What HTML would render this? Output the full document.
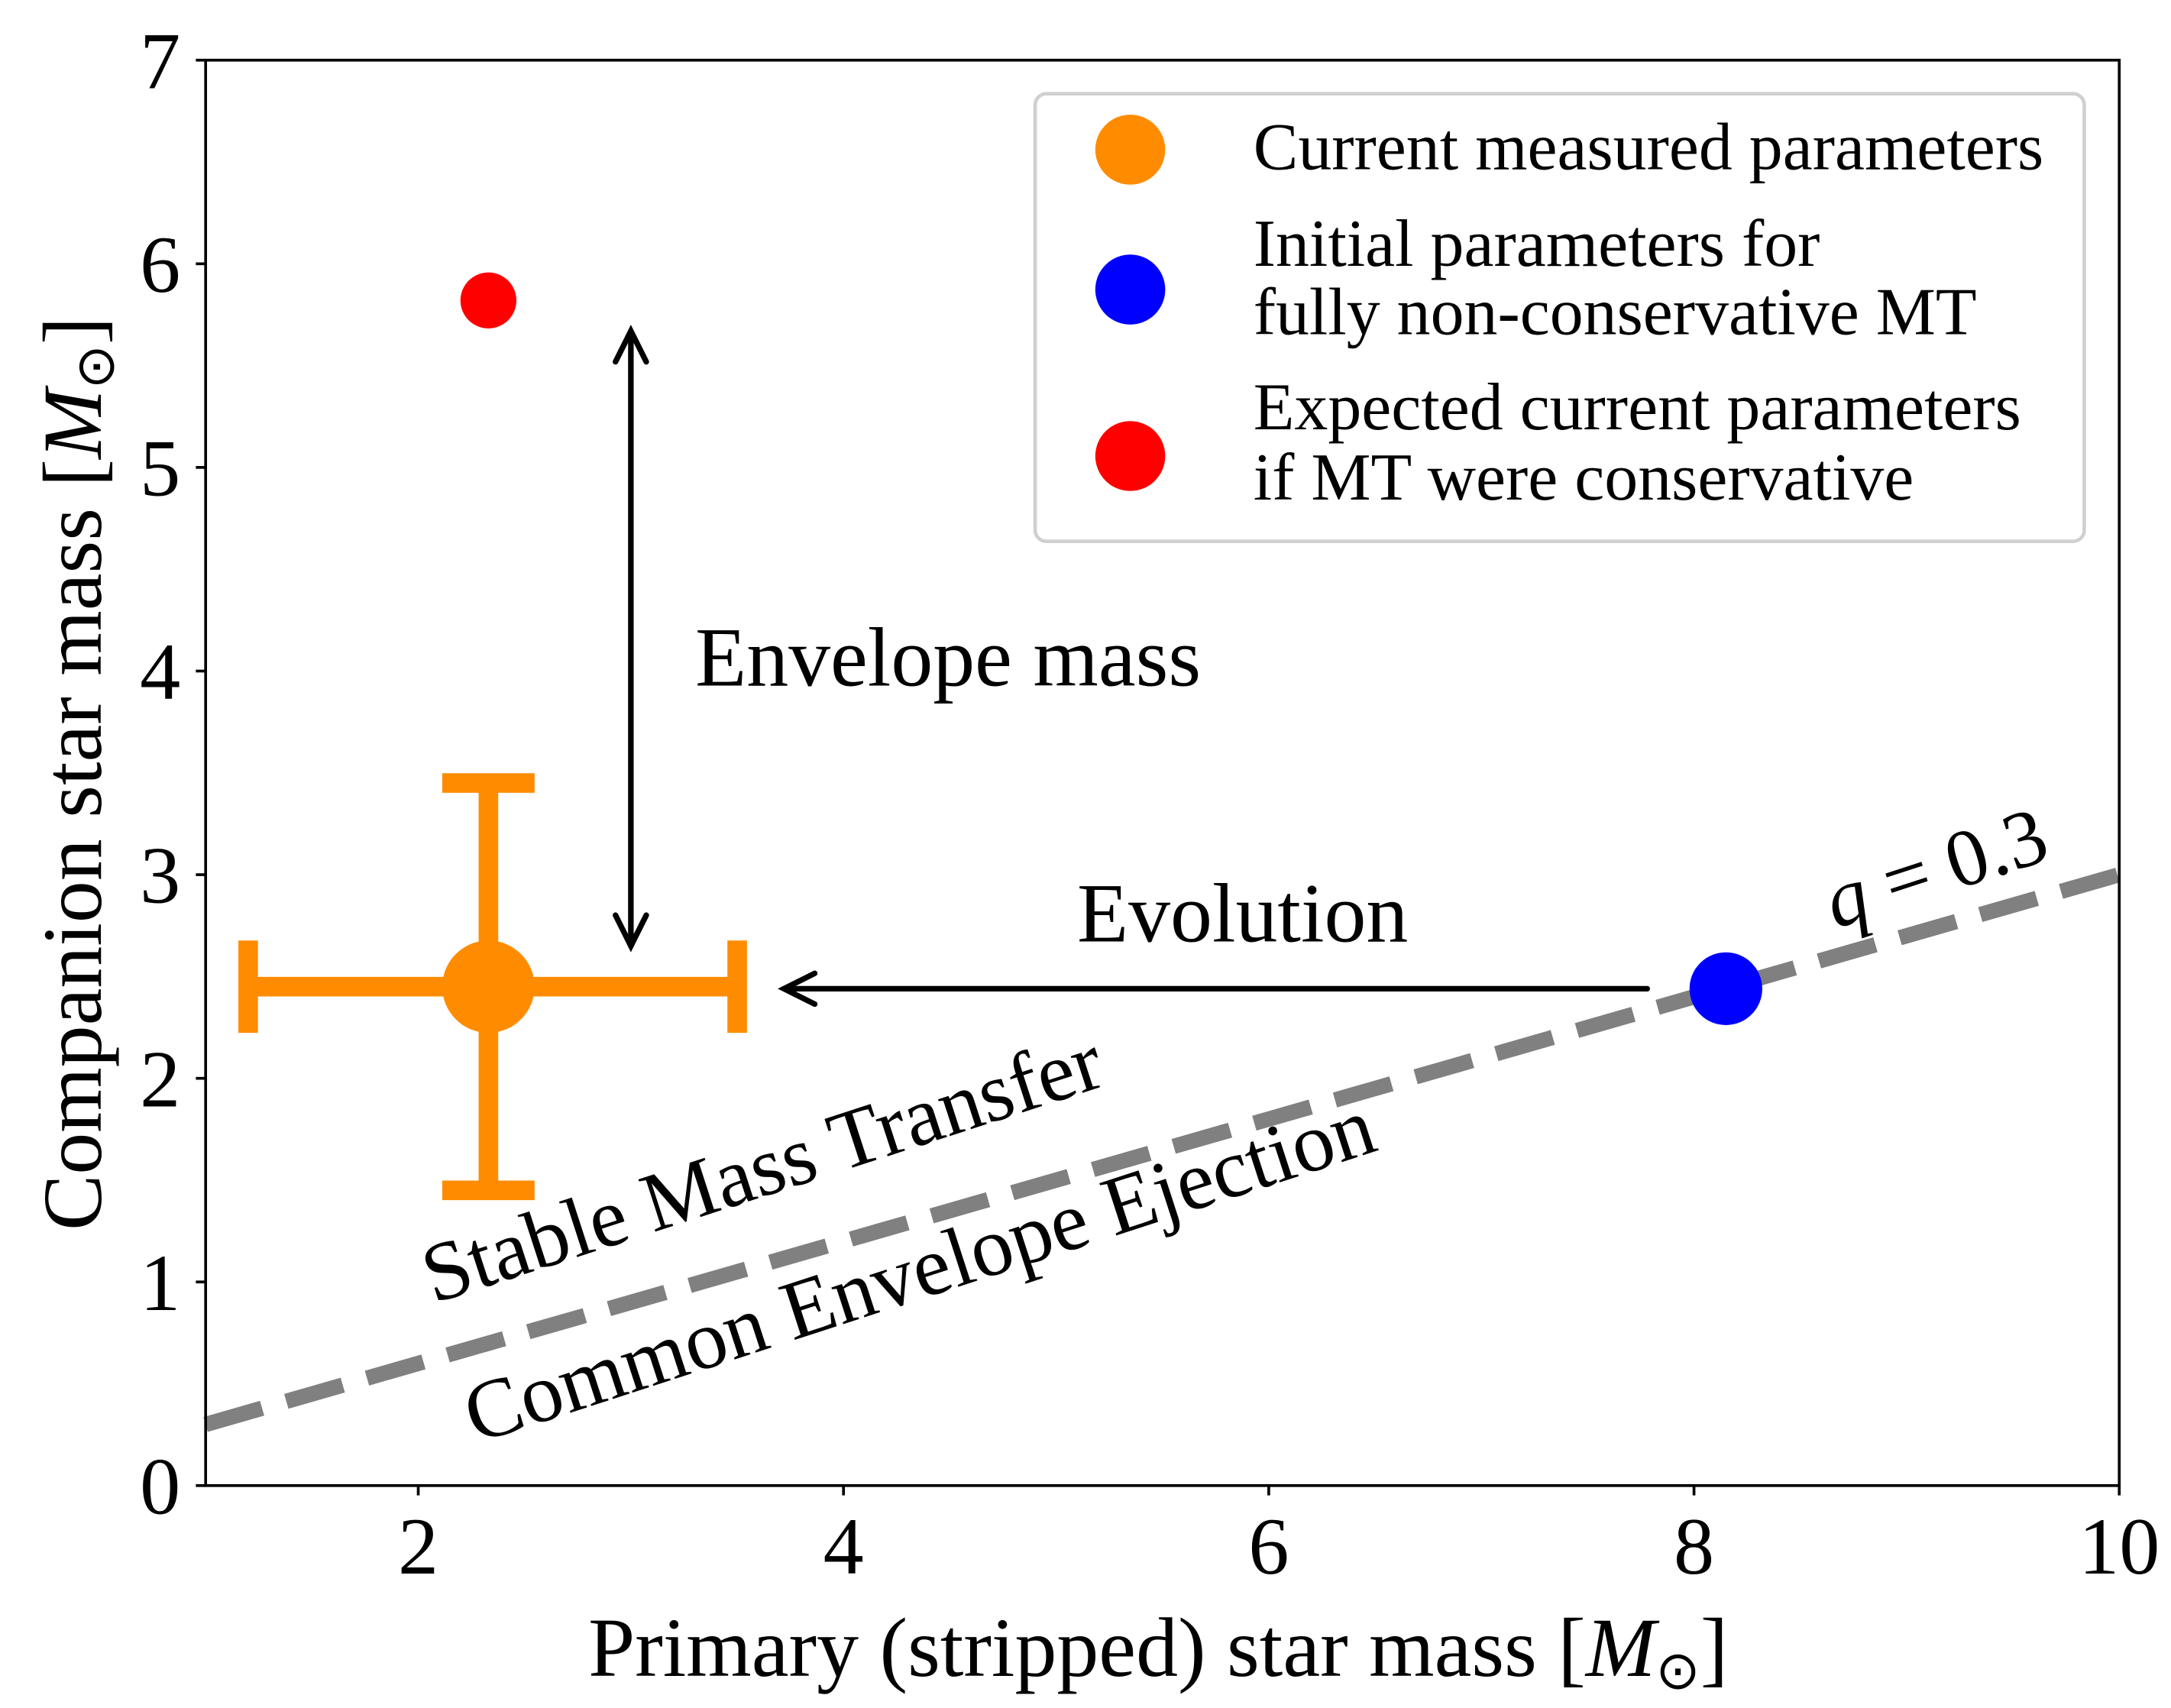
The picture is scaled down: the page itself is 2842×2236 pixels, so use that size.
<!DOCTYPE html>
<html><head><meta charset="utf-8"><style>
html,body{margin:0;padding:0;background:#fff}
svg{display:block}
text{font-family:"Liberation Serif",serif;fill:#000}
</style></head><body>
<svg id="chart" width="2842" height="2236" viewBox="0 0 1552 1221" preserveAspectRatio="none" xmlns="http://www.w3.org/2000/svg">
<g id="plot"></g>
</svg>
<script>
const xTicks=[2,4,6,8,10];
const yTicks=[0,1,2,3,4,5,6,7];
const measured=[2.33,2.45];
const measuredXErr=[1.2,3.5];
const measuredYErr=[1.45,3.45];
const conservative=[2.33,5.82];
const initial=[8.15,2.44];
const qRatio=[0.3];
const lineX=[1,10];
const envArrowY=[2.65,5.67];
const envArrowX=[3.0];
const evoArrowX=[7.78,3.72];
const evoArrowY=[2.44];

const L=147,R=1515,T=43,B=1062;
const X=v=>L+(v-1)/9*(R-L);
const Y=v=>B-v/7*(B-T);
const NS='http://www.w3.org/2000/svg';
const g=document.getElementById('plot');
function mk(tag,attrs,parent){const e=document.createElementNS(NS,tag);for(const k in attrs)e.setAttribute(k,attrs[k]);(parent||g).appendChild(e);return e;}
function txt(s,attrs){const e=mk('text',attrs);e.textContent=s;return e;}

let ql=mk('line',{x1:X(lineX[0]),y1:Y(qRatio[0]*lineX[0]),x2:X(lineX[1]),y2:Y(qRatio[0]*lineX[1]),stroke:'#808080','stroke-width':11,'stroke-dasharray':'42 18'});



const oc='#ff8c00';
let eb=mk('g',{});


mk('line',{x1:X(measuredXErr[0]),y1:Y(measured[1]),x2:X(measuredXErr[1]),y2:Y(measured[1]),stroke:oc,'stroke-width':14},eb);
mk('line',{x1:X(measured[0]),y1:Y(measuredYErr[0]),x2:X(measured[0]),y2:Y(measuredYErr[1]),stroke:oc,'stroke-width':14},eb);
mk('line',{x1:X(measuredXErr[0]),y1:Y(measured[1])-33,x2:X(measuredXErr[0]),y2:Y(measured[1])+33,stroke:oc,'stroke-width':14},eb);
mk('line',{x1:X(measuredXErr[1]),y1:Y(measured[1])-33,x2:X(measuredXErr[1]),y2:Y(measured[1])+33,stroke:oc,'stroke-width':14},eb);
mk('line',{x1:X(measured[0])-33,y1:Y(measuredYErr[0]),x2:X(measured[0])+33,y2:Y(measuredYErr[0]),stroke:oc,'stroke-width':14},eb);
mk('line',{x1:X(measured[0])-33,y1:Y(measuredYErr[1]),x2:X(measured[0])+33,y2:Y(measuredYErr[1]),stroke:oc,'stroke-width':14},eb);
let mp=mk('circle',{cx:X(measured[0]),cy:Y(measured[1]),r:33,fill:oc});


let rp=mk('circle',{cx:X(conservative[0]),cy:Y(conservative[1]),r:20,fill:'#ff0000'});


let bp=mk('circle',{cx:X(initial[0]),cy:Y(initial[1]),r:26,fill:'#0000ff'});



let a1=mk('g',{fill:'none',stroke:'#000','stroke-width':4,'stroke-linecap':'round'});


const ax=X(envArrowX[0]),ay0=Y(envArrowY[0]),ay1=Y(envArrowY[1]);
mk('line',{x1:ax,y1:ay0,x2:ax,y2:ay1},a1);
mk('polyline',{points:`${ax-11},${ay1+22} ${ax},${ay1} ${ax+11},${ay1+22}`},a1);
mk('polyline',{points:`${ax-11},${ay0-22} ${ax},${ay0} ${ax+11},${ay0-22}`},a1);
let a2=mk('g',{fill:'none',stroke:'#000','stroke-width':4,'stroke-linecap':'round'});


const ey=Y(evoArrowY[0]),ex0=X(evoArrowX[0]),ex1=X(evoArrowX[1]);
mk('line',{x1:ex0,y1:ey,x2:ex1,y2:ey},a2);
mk('polyline',{points:`${ex1+22},${ey-11} ${ex1},${ey} ${ex1+22},${ey+11}`},a2);

let t;
t=txt('Envelope mass',{x:497,y:490,'font-size':60});


t=txt('Evolution',{x:770,y:673,'font-size':60});


t=txt('Stable Mass Transfer',{x:0,y:0,'font-size':60,transform:'translate(310,932) rotate(-18)'});


t=txt('Common Envelope Ejection',{x:0,y:0,'font-size':60,transform:'translate(340,1032) rotate(-18)'});


t=mk('text',{x:0,y:0,'font-size':58,transform:'translate(1312,664) rotate(-18)'});
t.innerHTML='<tspan font-style="italic">q</tspan> = 0.3';



let fr=mk('rect',{x:L,y:T,width:R-L,height:B-T,fill:'none',stroke:'#000','stroke-width':2});


xTicks.forEach(v=>{
  let l=mk('line',{x1:X(v),y1:B,x2:X(v),y2:B+7,stroke:'#000','stroke-width':2});
  
  
  let s=txt(String(v),{x:X(v),y:1125,'font-size':58,'text-anchor':'middle'});
  
  
});
yTicks.forEach(v=>{
  let l=mk('line',{x1:L-7,y1:Y(v),x2:L,y2:Y(v),stroke:'#000','stroke-width':2});
  
  
  let s=txt(String(v),{x:129,y:Y(v)+20,'font-size':58,'text-anchor':'end'});
  
  
});
t=mk('text',{x:828,y:1198,'font-size':60,'text-anchor':'middle'});
t.innerHTML='Primary (stripped) star mass [<tspan font-style="italic">M</tspan><tspan font-size="38" dy="9">⊙</tspan><tspan dy="-9">]</tspan>';


t=mk('text',{x:0,y:0,'font-size':60,'text-anchor':'middle',transform:'translate(72,553) rotate(-90)'});
t.innerHTML='Companion star mass [<tspan font-style="italic">M</tspan><tspan font-size="38" dy="9">⊙</tspan><tspan dy="-9">]</tspan>';



let lg=mk('g',{});


mk('rect',{x:740,y:67,width:750,height:320,rx:8,fill:'#fff',stroke:'#d0d0d0','stroke-width':2.5},lg);
const items=[['#ff8c00',107,[['Current measured parameters',121]]],['#0000ff',207,[['Initial parameters for',190],['fully non-conservative MT',239]]],['#ff0000',326,[['Expected current parameters',307],['if MT were conservative',357]]]];
items.forEach(([c,cy,lines])=>{
  let e=mk('g',{},lg);
  
  
  mk('circle',{cx:808,cy:cy,r:25,fill:c},e);
  lines.forEach(([s,y])=>{
    const tt=mk('text',{x:896,y:y,'font-size':48},e);tt.textContent=s;
  });
});
</script>
</body></html>
